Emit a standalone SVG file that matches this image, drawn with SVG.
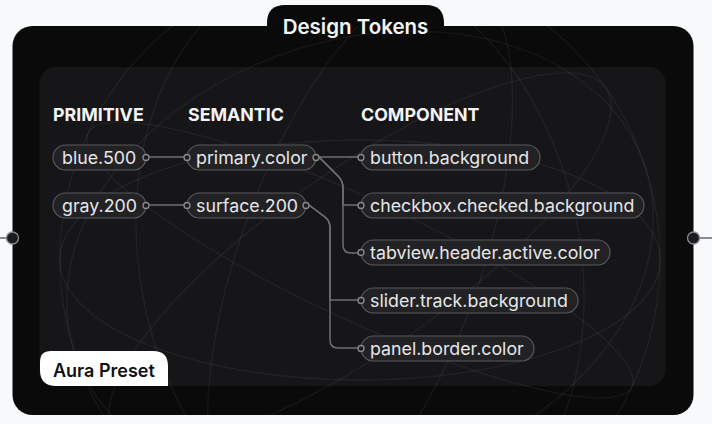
<svg xmlns="http://www.w3.org/2000/svg" width="712" height="424" viewBox="0 0 712 424">
<style>
.pill rect{fill:#222225;stroke:#58585d;stroke-width:1.2}
.pill text{font-family:Inter,"Liberation Sans",sans-serif;font-size:17.8px;fill:#e6e6e8}
.hdr{font-family:Inter,"Liberation Sans",sans-serif;font-size:17.8px;font-weight:700;fill:#f4f4f5}
.port{fill:#1c1c1f;stroke:#8a8a8f;stroke-width:1.3}
.conn{fill:none;stroke:#6e6e73;stroke-width:1.5}
.globe{fill:none;stroke:#ffffff;stroke-opacity:0.055;stroke-width:1.3}
</style>
<defs>
<clipPath id="cardclip"><rect x="12.5" y="26" width="681" height="389" rx="20"/></clipPath>
</defs>
<rect width="712" height="424" fill="#f8f9fb"/>
<g id="outer-ports">
<line x1="0" y1="238" x2="6" y2="238" stroke="#8a8a8f" stroke-width="2"/>
<line x1="700" y1="238" x2="712" y2="238" stroke="#8a8a8f" stroke-width="2"/>
</g>
<g id="card">
<rect x="12.5" y="26" width="681" height="389" rx="20" fill="#0a0a0b"/>
<path d="M267 32 V23 Q267 5 285 5 H426 Q444 5 444 23 V32 Z" fill="#0a0a0b"/>
<text x="355.5" y="33.5" text-anchor="middle" font-family="Inter,'Liberation Sans',sans-serif" font-size="20.5" font-weight="600" fill="#f4f4f5">Design Tokens</text>
</g>
<rect x="39.5" y="67" width="626" height="319" rx="16" fill="#161618"/>
<g id="globe" clip-path="url(#cardclip)">
<circle class="globe" cx="360" cy="260" r="300"/>
<ellipse class="globe" cx="360" cy="260" rx="300" ry="120"/>
<ellipse class="globe" cx="360" cy="260" rx="300" ry="220" transform="rotate(-18 360 260)"/>
<ellipse class="globe" cx="360" cy="260" rx="120" ry="300" transform="rotate(20 360 260)"/>
<ellipse class="globe" cx="360" cy="260" rx="220" ry="300" transform="rotate(-12 360 260)"/>
<ellipse class="globe" cx="360" cy="260" rx="300" ry="60" transform="rotate(25 360 260)"/>
<ellipse class="globe" cx="360" cy="260" rx="300" ry="90" transform="rotate(-35 360 260)"/>
</g>
<circle class="port" cx="12.5" cy="238" r="6" stroke-width="2.2"/>
<circle class="port" cx="693.5" cy="238" r="6" stroke-width="2.2"/>
<g id="headers">
<text class="hdr" x="53" y="121">PRIMITIVE</text>
<text class="hdr" x="188" y="121">SEMANTIC</text>
<text class="hdr" x="361" y="121">COMPONENT</text>
</g>
<g id="connectors">
<path class="conn" d="M149 157 H184"/>
<path class="conn" d="M149 205 H184"/>
<path class="conn" d="M319 157 H358"/>
<path class="conn" d="M319 157 L338 176 Q343 181 343 188 V205 H358"/>
<path class="conn" d="M319 157 L338 176 Q343 181 343 188 V245 Q343 253 351 253 H358"/>
<path class="conn" d="M309 205 L325 217 Q330 221 330 228 V300 H358"/>
<path class="conn" d="M309 205 L325 217 Q330 221 330 228 V340 Q330 348 338 348 H358"/>
</g>
<g id="blue500" class="pill"><rect x="53" y="145" width="93" height="25" rx="12.5"/><text x="62" y="163.5">blue.500</text><circle class="port" cx="146" cy="157.5" r="3"/></g>
<g id="gray200" class="pill"><rect x="53" y="193" width="93" height="25" rx="12.5"/><text x="62" y="211.5">gray.200</text><circle class="port" cx="146" cy="205.5" r="3"/></g>
<g id="primary" class="pill"><rect x="187" y="145" width="129" height="25" rx="12.5"/><text x="196" y="163.5">primary.color</text><circle class="port" cx="187" cy="157.5" r="3"/><circle class="port" cx="316" cy="157.5" r="3"/></g>
<g id="surface" class="pill"><rect x="187" y="193" width="119" height="25" rx="12.5"/><text x="196" y="211.5">surface.200</text><circle class="port" cx="187" cy="205.5" r="3"/><circle class="port" cx="306" cy="205.5" r="3"/></g>
<g id="button" class="pill"><rect x="361" y="145" width="179" height="25" rx="12.5"/><text x="370" y="163.5">button.background</text><circle class="port" cx="361" cy="157.5" r="3"/></g>
<g id="checkbox" class="pill"><rect x="361" y="193" width="283" height="25" rx="12.5"/><text x="370" y="211.5">checkbox.checked.background</text><circle class="port" cx="361" cy="205.5" r="3"/></g>
<g id="tabview" class="pill"><rect x="361" y="240" width="249" height="25" rx="12.5"/><text x="370" y="258.5">tabview.header.active.color</text><circle class="port" cx="361" cy="252.5" r="3"/></g>
<g id="slider" class="pill"><rect x="361" y="288" width="217" height="25" rx="12.5"/><text x="370" y="306.5">slider.track.background</text><circle class="port" cx="361" cy="300.5" r="3"/></g>
<g id="panel" class="pill"><rect x="361" y="336" width="173" height="25" rx="12.5"/><text x="370" y="354.5">panel.border.color</text><circle class="port" cx="361" cy="348.5" r="3"/></g>
<g id="aura-preset">
<path d="M40 362 Q40 351 51 351 H153 Q168 351 168 366 V386 H56 Q40 386 40 370 Z" fill="#ffffff"/>
<text x="53" y="376.5" font-family="Inter,'Liberation Sans',sans-serif" font-size="18" font-weight="600" fill="#111113">Aura Preset</text>
</g>
</svg>
